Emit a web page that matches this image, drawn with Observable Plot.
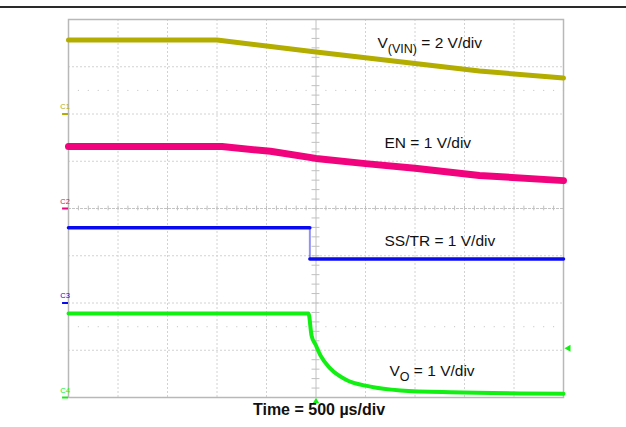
<!DOCTYPE html>
<html><head><meta charset="utf-8">
<script src="https://cdn.jsdelivr.net/npm/d3@7"></script>
<script src="https://cdn.jsdelivr.net/npm/@observablehq/plot@0.6"></script>
<style>
body{margin:0;background:#fff;}
#wrap{position:relative;width:626px;height:427px;}
#wrap svg{position:absolute;left:0;top:0;}
#topline{position:absolute;left:0;top:6px;width:626px;height:2px;background:#2a2a2a;}
</style></head><body><div id="wrap"></div>
<script>
// ---- data (time in µs, values in volts) ----
const channels = ["C1", "C2", "C3", "C4"];
const channelColors = ["#b3ad00", "#f2037e", "#0a0af0", "#12ef12"];
const channelOffsetDiv = [6, 4, 2, 0];
const voltsPerDiv = [2, 1, 1, 1];
const channelLabels = ["V_{(VIN)} = 2 V/div", "EN = 1 V/div", "SS/TR = 1 V/div", "V_{O} = 1 V/div"];

const vinTime = [-2500, -1000, -500, 0, 500, 1000, 1650, 2500];
const vinVolts = [3.13, 3.13, 2.88, 2.62, 2.38, 2.14, 1.82, 1.52];

const enTime = [-2500, -950, -460, 0, 500, 1000, 1650, 2500];
const enVolts = [1.31, 1.31, 1.21, 1.06, 0.95, 0.85, 0.70, 0.59];

const ssTime = [-2500, -62, -62, 2500];
const ssVolts = [1.59, 1.59, 0.93, 0.93];

const voTime = [-2500, -76, -45, 0, 45, 146, 298, 550, 854, 1359, 2500];
const voVolts = [1.78, 1.78, 1.31, 1.10, 0.89, 0.61, 0.38, 0.23, 0.15, 0.11, 0.08];

const triggerLevelVolts = 1.04; // on C4
const timeGrid = [-2500, -2000, -1500, -1000, -500, 0, 500, 1000, 1500, 2000, 2500];
const divGrid = [0, 1, 2, 3, 4, 5, 6, 7, 8];
const caption = "Time = 500 µs/div";

// ---- build tables ----
const toDiv = (ci, v) => channelOffsetDiv[ci] + v / voltsPerDiv[ci];
const mk = (ci, ts, vs) => ts.map((t, i) => ({t, d: toDiv(ci, vs[i])}));
const vin = mk(0, vinTime, vinVolts);
const en = mk(1, enTime, enVolts);
const ss = mk(2, ssTime, ssVolts);
const vo = mk(3, voTime, voVolts);
const minorX = d3.range(timeGrid[0], timeGrid[timeGrid.length - 1] + 1, 100);
const minorY = d3.range(0, 8.001, 0.2);
const labelPos = [
  {t: 621, d: 7.51}, {t: 692, d: 5.38}, {t: 692, d: 3.32}, {t: 742, d: 0.57}
].map((p, i) => ({...p, label: channelLabels[i]}));
const markers = channels.map((c, i) => ({c, d: channelOffsetDiv[i], color: channelColors[i]}));

const plot = Plot.plot({
  width: 626, height: 427,
  marginLeft: 68, marginRight: 63, marginTop: 19, marginBottom: 30,
  x: {domain: [-2500, 2500], axis: null},
  y: {domain: [0, 8], axis: null},
  style: {fontFamily: "'Liberation Sans', Arial, sans-serif", background: "transparent"},
  marks: [
    Plot.ruleX(timeGrid.filter(t => t !== 0 && Math.abs(t) !== 2500), {stroke: "#d2d2d2", strokeDasharray: "2,2"}),
    Plot.ruleY(divGrid.filter(d => d !== 0 && d !== 8 && d !== 4), {stroke: "#d2d2d2", strokeDasharray: "2,2"}),
    Plot.ruleX([0], {stroke: "#c0c0c0"}),
    Plot.ruleY([4], {stroke: "#c4c4c4", strokeDasharray: "3,1"}),
    Plot.ruleX(minorX, {y1: () => 3.95, y2: () => 4.05, stroke: "#c0c0c0"}),
    Plot.ruleY(minorY, {x1: () => -40, x2: () => 40, stroke: "#c0c0c0"}),
    Plot.dot(minorX, {x: d => d, y: () => 6.5, r: 0.6, fill: "#c8c8c8"}),
    Plot.dot(minorX, {x: d => d, y: () => 1.5, r: 0.6, fill: "#c8c8c8"}),
    Plot.frame({stroke: "#b8b8b8", strokeWidth: 1.5}),
    // traces
    Plot.line(vin, {x: "t", y: "d", stroke: channelColors[0], strokeWidth: 5}),
    Plot.line(en, {x: "t", y: "d", stroke: channelColors[1], strokeWidth: 7}),
    Plot.line(ss.slice(1, 3), {x: "t", y: "d", stroke: channelColors[2], strokeWidth: 2, strokeOpacity: 0.45}),
    Plot.line(ss.slice(0, 2), {x: "t", y: "d", stroke: channelColors[2], strokeWidth: 3.5}),
    Plot.line(ss.slice(2), {x: "t", y: "d", stroke: channelColors[2], strokeWidth: 3.5}),
    Plot.line(vo, {x: "t", y: "d", stroke: channelColors[3], strokeWidth: 4, curve: "monotone-x"}),
    // labels
    Plot.text(labelPos, {x: "t", y: "d", text: "label", textAnchor: "start", fontSize: 15.5, fill: "#111"}),
    // channel markers
    Plot.ruleY(markers, {y: "d", x1: () => -2560, x2: () => -2500, stroke: "color", strokeWidth: 2, clip: false}),
    Plot.text(markers, {x: () => -2535, y: "d", text: "c", fill: "color", fontSize: 7.5, dy: -7, clip: false}),
    // trigger markers
    Plot.dot([toDiv(3, triggerLevelVolts)], {x: () => 2500, y: d => d, symbol: "triangle", rotate: -90, r: 2.6, fill: channelColors[3], stroke: "none", dx: 5}),
    Plot.dot([0], {x: d => d, y: () => 0, symbol: "triangle", r: 2.4, fill: channelColors[3], stroke: "none", dy: 4}),
    // caption
    Plot.text([caption], {x: () => 0, y: () => -0.27, text: d => d, fontSize: 16, fontWeight: "bold", fill: "#111", dx: 3})
  ]
});
const wrap = document.getElementById("wrap");
wrap.appendChild(plot);
const tl = document.createElement("div"); tl.id = "topline"; wrap.appendChild(tl);

// subscripts: turn "X_{sub} rest" into tspans
d3.select(plot).selectAll("text").each(function() {
  const s = this.textContent;
  const m = s.match(/^(.*?)_\{(.*?)\}(.*)$/);
  if (!m) return;
  const el = d3.select(this);
  el.text(null);
  el.append("tspan").text(m[1]);
  el.append("tspan").attr("dy", "5").attr("font-size", "12.5").text(m[2]);
  el.append("tspan").attr("dy", "-5").text(m[3]);
});
</script></body></html>
